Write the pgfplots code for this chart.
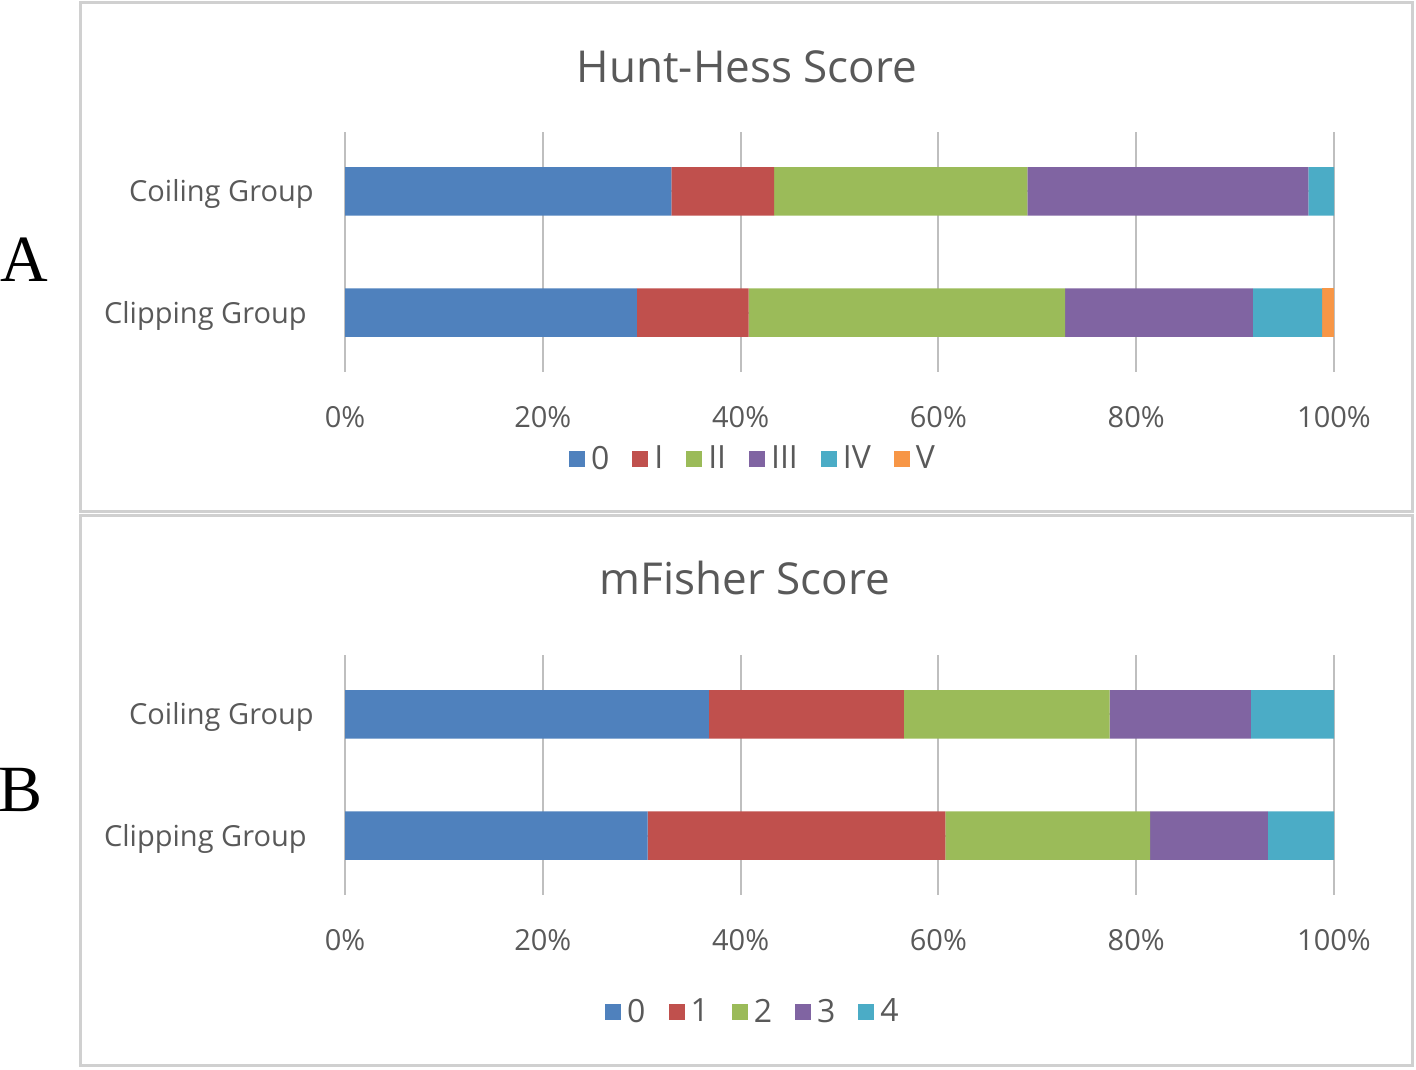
\documentclass[border=0pt]{standalone}
\usepackage{fontspec}
\setmainfont{Open Sans}
\newfontfamily\serifA{Liberation Serif}
\usepackage{pgfplots}
\pgfplotsset{compat=1.18}
\definecolor{cA}{HTML}{4F81BD}
\definecolor{cB}{HTML}{C0504D}
\definecolor{cC}{HTML}{9BBB59}
\definecolor{cD}{HTML}{8064A2}
\definecolor{cE}{HTML}{4BACC6}
\definecolor{cF}{HTML}{F79646}
\definecolor{txt}{HTML}{595959}
\definecolor{grid}{HTML}{D9D9D9}
\definecolor{frame}{HTML}{D0D0D0}
\pgfplotsset{
  panel/.style={
    xbar stacked,
    scale only axis,
    width=494.5pt, height=120pt,
    xmin=0, xmax=100,
    ymin=-0.49, ymax=1.49,
    bar width=0.4,
    ytick={0,1},
    yticklabels={Clipping Group, Coiling Group\hspace*{-3.5pt}},
    xtick={0,20,40,60,80,100},
    xticklabels={0\%,20\%,40\%,60\%,80\%,100\%},
    xmajorgrids, major grid style={grid, line width=1pt},
    axis line style={draw=none},
    major tick length=0pt,
    tick label style={text=txt},
    yticklabel style={font=\fontsize{14.5}{16}\selectfont, inner sep=0pt, xshift=-19pt, yshift=-1.5pt},
    xticklabel style={font=\fontsize{14.5}{16}\selectfont, inner sep=0pt, yshift=-17pt},
    legend columns=-1,
    legend style={draw=none, fill=none, font=\fontsize{16}{18}\selectfont, text=txt,
      /tikz/every even column/.append style={column sep=9.5pt},
      /tikz/every odd column/.append style={column sep=1pt}},
    legend cell align=left,
    legend image code/.code={\fill[##1] (0pt,-4pt) rectangle (8pt,4pt);},
  }
}
\begin{document}
\begin{tikzpicture}
\path[use as bounding box] (0,0) rectangle (708pt,534.5pt);
\begin{scope}[x=0.5pt,y=-0.5pt,shift={(0,-1069)}]
\draw[frame, line width=1.5pt] (80,3) rectangle (1412,512);
\draw[frame, line width=1.5pt] (80,516) rectangle (1412,1065);
\node[font=\fontsize{22}{25}\selectfont, text=txt] at (747,67) {Hunt-Hess Score};
\node[font=\fontsize{22}{25}\selectfont, text=txt] at (745,578) {mFisher Score};
\node[font=\serifA\fontsize{33}{36}\selectfont] at (24,260) {A};
\node[font=\serifA\fontsize{33}{36}\selectfont] at (21,790) {B};
\end{scope}
\begin{axis}[panel, at={(172.5pt,348.5pt)}, anchor=south west,
  legend style={at={(0.4135,-0.3625)}, anchor=center}]
\addplot[fill=cA, draw=none] coordinates {(29.5,0) (33.0,1)};
\addplot[fill=cB, draw=none] coordinates {(11.3,0) (10.4,1)};
\addplot[fill=cC, draw=none] coordinates {(32.0,0) (25.6,1)};
\addplot[fill=cD, draw=none] coordinates {(19.0,0) (28.4,1)};
\addplot[fill=cE, draw=none] coordinates {(7.0,0) (2.6,1)};
\addplot[fill=cF, draw=none] coordinates {(1.2,0) (0,1)};
\legend{0,I,II,III,IV,V}
\end{axis}
\begin{axis}[panel, at={(172.5pt,87pt)}, anchor=south west,
  legend style={at={(0.4135,-0.4875)}, anchor=center}]
\addplot[fill=cA, draw=none] coordinates {(30.6,0) (36.8,1)};
\addplot[fill=cB, draw=none] coordinates {(30.1,0) (19.7,1)};
\addplot[fill=cC, draw=none] coordinates {(20.7,0) (20.8,1)};
\addplot[fill=cD, draw=none] coordinates {(11.9,0) (14.3,1)};
\addplot[fill=cE, draw=none] coordinates {(6.7,0) (8.4,1)};
\legend{0,1,2,3,4}
\end{axis}
\end{tikzpicture}
\end{document}
